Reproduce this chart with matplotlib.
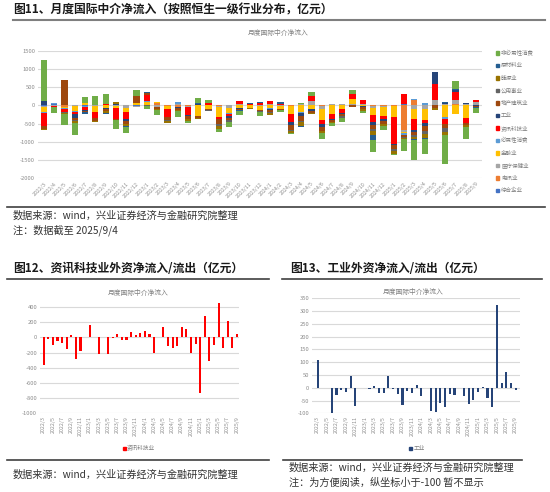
import numpy as np
import matplotlib
matplotlib.use("Agg")
import matplotlib.pyplot as plt
from matplotlib.lines import Line2D
from matplotlib.patches import Rectangle

plt.rcParams['font.family'] = ['Noto Sans CJK SC', 'DejaVu Sans']
plt.rcParams['axes.unicode_minus'] = False

# ---- data (亿元) ----
months = ['2022/3', '2022/4', '2022/5', '2022/6', '2022/7', '2022/8', '2022/9',
          '2022/10', '2022/11', '2022/12', '2023/1', '2023/2', '2023/3', '2023/4',
          '2023/5', '2023/6', '2023/7', '2023/8', '2023/9', '2023/10', '2023/11',
          '2023/12', '2024/1', '2024/2', '2024/3', '2024/4', '2024/5', '2024/6',
          '2024/7', '2024/8', '2024/9', '2024/10', '2024/11', '2024/12', '2025/1',
          '2025/2', '2025/3', '2025/4', '2025/5', '2025/6', '2025/7', '2025/8',
          '2025/9']

# legend order (top to bottom)
sectors = ['非必需性消费', '原材料业', '能源业', '公用事业', '地产建筑业', '工业',
           '资讯科技业', '必需性消费', '金融业', '医疗保健业', '电讯业', '综合企业']
colors = ['#70AD47', '#255E91', '#997300', '#636363', '#9E480E', '#264478',
          '#FF0000', '#5B9BD5', '#FFC000', '#A5A5A5', '#ED7D31', '#4472C4']

cons_disc = [1140, -160, -300, -340, 160, 240, 255, -250, -160, 170, -90, -140, 0,
             -170, -60, 120, 90, -60, -140, -110, 0, -100, 0, -60, -20, 30, 100,
             -160, -60, -110, 110, -60, -330, -110, -20, -330, -550, -420, 0, -800,
             200, -340, -130]
materials = [0, 0, 0, 0, -40, 0, -10, 0, -30, 0, 30, 0, 0, 0, 0, 30, 0, -15, 0,
             -30, 20, 30, 0, 30, 0, -25, 0, 0, 20, 0, 0, 0, -150, 0, 0, 0, -30,
             -30, 0, 20, 40, 0, -40]
energy = [-50, 0, -30, -30, 0, -30, -60, 45, -60, 0, 0, -30, -60, -40, -60, -40,
          0, -80, 0, 0, -20, 0, -40, 0, -60, -100, -40, -60, -40, 0, 0, -40, -100,
          -60, -80, -40, -60, -100, -70, -80, 0, -40, 0]
utilities = [0, 0, -30, -30, 0, 0, 10, -20, 0, 0, -20, 0, -20, 0, 0, 0, -30, -60,
             -40, 0, 0, -20, -30, 0, -40, -50, 0, 0, 0, -40, 0, 0, -60, 0, -60,
             -30, -40, -80, 0, -100, 0, 0, 0]
property_con = [-70, -15, 670, -60, -40, -80, -60, -30, -80, 200, 40, -50, -90,
                -60, -80, -60, -40, -120, -60, -40, 0, -40, -60, -40, -120, -120,
                -40, -120, -60, -60, -30, -60, -120, -80, -120, -60, -100, -150,
                -60, -120, 0, -60, -30]
industrials = [107, 0, 0, -120, -28, -8, -18, 45, -70, 0, 0, -5, 7, -20, -22, 47,
               -5, -25, -68, -12, -20, 10, -32, 0, -90, -95, -60, -75, -25, -28,
               -2, -32, -65, -48, -18, 2, -40, -75, 325, 18, 60, 20, -8]
info_tech = [-365, -20, -97, -50, -75, -160, 25, -280, -180, 5, 165, 10, -220, 3,
             -220, -3, 50, -40, -40, 75, 30, 55, 80, 50, -210, 0, 135, -120, -140,
             -120, 140, 110, -200, -90, -730, 280, -310, -100, 450, -140, 210,
             -140, 45]
cons_staples = [-10, 40, -20, -30, -30, 0, -20, 0, 0, 0, 30, 0, 0, 50, 0, 0, 0, 0,
                -20, -20, 20, 0, -20, 0, 0, -30, 0, 0, 0, 0, 0, 0, 0, 0, 0, -30,
                20, 70, 0, -30, 0, 0, 0]
financials = [-150, 0, -30, -130, 40, -160, -60, -60, -120, 60, 80, 20, -60, 0, 0,
              -280, -90, -270, -150, -60, -60, -90, -80, -60, -230, -170, -100,
              -280, -230, -90, 130, -20, -200, -230, -300, -50, -260, -300, 0,
              -330, -250, -340, 0]
healthcare = [-20, -15, 20, -20, 20, -20, 10, -20, -60, -30, 20, -40, 0, 40, -20,
              0, 20, -30, -70, 30, 0, -30, 30, -30, 20, 30, 120, -80, 30, 45, 40,
              30, -40, -30, 0, -40, -110, -90, 120, 50, 100, 50, 80]
telecom = [-10, 0, -40, 15, 0, 0, 0, 0, 10, 0, 0, 60, -30, -40, -30, 0, 0, -20, 0,
           0, 0, 0, 0, 0, -20, 0, 0, -30, 0, 0, 0, 0, -20, -20, -30, -680, 150, 0,
           0, 0, 50, 0, 0]
conglomerates = [-10, 30, 0, 0, -20, 15, 0, 0, 0, -20, 0, 0, 10, 0, 20, 0, 0, 0,
                 20, 20, 0, 0, 0, 0, 0, 0, 0, 0, 0, 0, 0, 0, 0, 0, 0, 30, 0, 0, 20,
                 0, 0, 0, 20]

series = [cons_disc, materials, energy, utilities, property_con, industrials,
          info_tech, cons_staples, financials, healthcare, telecom, conglomerates]

W, H = 550, 492
GRID = '#D9D9D9'
TICK = '#8C8C8C'


def box(x0, y0, x1, y1):
    return [x0 / W, 1 - y1 / H, (x1 - x0) / W, (y1 - y0) / H]


def fx(x):
    return x / W


def fy(y):
    return 1 - y / H


def hline(fig, x0, x1, y, color='#404040', lw=1.2):
    fig.add_artist(Line2D([fx(x0), fx(x1)], [fy(y), fy(y)], color=color, lw=lw))


def style_axes(ax):
    for s in ax.spines.values():
        s.set_visible(False)
    ax.grid(axis='y', color=GRID, lw=0.8)
    ax.set_axisbelow(True)
    ax.tick_params(length=0, colors=TICK, labelsize=4.2, pad=2)


fig = plt.figure(figsize=(W / 100, H / 100), dpi=100)
fig.patch.set_facecolor('white')

# ---------------- 图11 ----------------
fig.text(fx(13), fy(10), '图11、月度国际中介净流入（按照恒生一级行业分布，亿元）',
         fontsize=8.5, fontweight='bold', color='#1A1A1A', va='center', ha='left')
hline(fig, 13, 545, 19.5, color='#7F7F7F', lw=1.5)
fig.text(fx(278), fy(33), '月度国际中介净流入', fontsize=4.9, color='#7F7F7F',
         ha='center', va='center')

x = np.arange(len(months))
ax1 = fig.add_axes(box(38, 50.7, 482, 178.3))
style_axes(ax1)
pos_base = np.zeros(len(months))
neg_base = np.zeros(len(months))
for vals, col in list(zip(series, colors))[::-1]:
    v = np.array(vals, dtype=float)
    bottom = np.where(v >= 0, pos_base, neg_base)
    ax1.bar(x, v, bottom=bottom, width=0.6, color=col, lw=0)
    pos_base += np.clip(v, 0, None)
    neg_base += np.clip(v, None, 0)
ax1.set_xlim(-0.58, 42.58)
ax1.set_ylim(-2000, 1500)
ax1.set_yticks(range(-2000, 1501, 500))
ax1.set_xticks(x)
ax1.set_xticklabels(months, rotation=45, ha='right', va='top',
                    rotation_mode='anchor', fontsize=3.8)

for i, (name, col) in enumerate(zip(sectors, colors)):
    yy = 53 + 12.5 * i
    fig.add_artist(Rectangle((fx(495.5), fy(yy + 1.6)), 3.2 / W, 3.2 / H,
                             color=col, transform=fig.transFigure))
    fig.text(fx(501), fy(yy), name, fontsize=4.0, color='#7F7F7F',
             ha='left', va='center')

hline(fig, 7, 545, 207)
fig.text(fx(13), fy(216), '数据来源：wind，兴业证券经济与金融研究院整理',
         fontsize=7.3, color='#333333', ha='left', va='center')
fig.text(fx(13), fy(230), '注：数据截至 2025/9/4',
         fontsize=7.3, color='#333333', ha='left', va='center')

# ---------------- 图12 ----------------
fig.text(fx(13), fy(268), '图12、资讯科技业外资净流入/流出（亿元）',
         fontsize=8.5, fontweight='bold', color='#1A1A1A', va='center', ha='left')
hline(fig, 7, 269, 279)
fig.text(fx(138), fy(292.5), '月度国际中介净流入', fontsize=4.9, color='#7F7F7F',
         ha='center', va='center')

ax2 = fig.add_axes(box(40, 301.6, 239.5, 413.3))
style_axes(ax2)
ax2.bar(x, info_tech, width=0.45, color='#FF0000', lw=0)
ax2.set_xlim(-0.8, 42.55)
ax2.set_ylim(-1000, 470)
ax2.set_yticks(range(-1000, 401, 200))
ax2.set_xticks(x[::2])
ax2.set_xticklabels(months[::2], rotation=90, ha='center', va='top', fontsize=3.8)

fig.add_artist(Rectangle((fx(122.5), fy(449.5)), 3 / W, 3 / H, color='#FF0000',
                         transform=fig.transFigure))
fig.text(fx(127), fy(448), '资讯科技业', fontsize=4.1, color='#7F7F7F',
         ha='left', va='center')
hline(fig, 7, 269, 460)
fig.text(fx(13), fy(475), '数据来源：wind，兴业证券经济与金融研究院整理',
         fontsize=7.3, color='#333333', ha='left', va='center')

# ---------------- 图13 ----------------
fig.text(fx(290), fy(268), '图13、工业外资净流入/流出（亿元）',
         fontsize=8.5, fontweight='bold', color='#1A1A1A', va='center', ha='left')
hline(fig, 282, 542, 279)
fig.text(fx(413), fy(292), '月度国际中介净流入', fontsize=4.9, color='#7F7F7F',
         ha='center', va='center')

ax3 = fig.add_axes(box(312, 298.3, 520, 413.3))
style_axes(ax3)
ax3.bar(x, industrials, width=0.45, color='#264478', lw=0)
ax3.set_xlim(-1.2, 42.9)
ax3.set_ylim(-100, 350)
ax3.set_yticks(range(-100, 351, 50))
ax3.set_xticks(x[::2])
ax3.set_xticklabels(months[::2], rotation=90, ha='center', va='top', fontsize=3.8)

fig.add_artist(Rectangle((fx(409), fy(449.5)), 3 / W, 3 / H, color='#264478',
                         transform=fig.transFigure))
fig.text(fx(413.5), fy(448), '工业', fontsize=4.1, color='#7F7F7F',
         ha='left', va='center')
hline(fig, 283, 522, 460)
fig.text(fx(289), fy(468), '数据来源：wind，兴业证券经济与金融研究院整理',
         fontsize=7.3, color='#333333', ha='left', va='center')
fig.text(fx(289), fy(483), '注：为方便阅读，纵坐标小于-100 暂不显示',
         fontsize=7.3, color='#333333', ha='left', va='center')

fig.savefig('out.png', dpi=100)
